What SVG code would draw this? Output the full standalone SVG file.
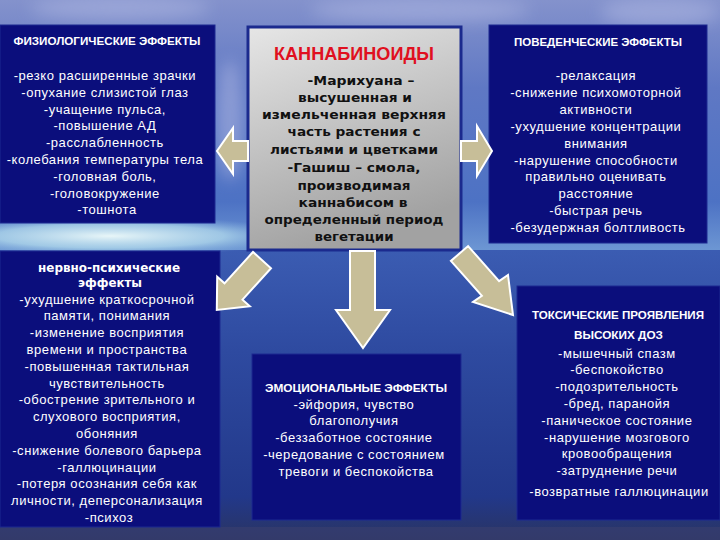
<svg xmlns="http://www.w3.org/2000/svg" width="720" height="540" viewBox="0 0 720 540">
<defs>
<linearGradient id="sky" x1="0" y1="0" x2="0" y2="1">
<stop offset="0" stop-color="#8492cc"/>
<stop offset="0.35" stop-color="#5f78c4"/>
<stop offset="0.8" stop-color="#4d72c4"/>
<stop offset="1" stop-color="#6e98d4"/>
</linearGradient>
<linearGradient id="sea" x1="0" y1="0" x2="0" y2="1">
<stop offset="0" stop-color="#3b5cb2"/>
<stop offset="0.35" stop-color="#2e4aa0"/>
<stop offset="0.85" stop-color="#22388a"/>
<stop offset="1" stop-color="#2a3462"/>
</linearGradient>
<radialGradient id="glow" cx="0.5" cy="0.5" r="0.5">
<stop offset="0" stop-color="#e8f6f8" stop-opacity="1"/>
<stop offset="0.6" stop-color="#b8e0ee" stop-opacity="0.7"/>
<stop offset="1" stop-color="#8ab8e0" stop-opacity="0"/>
</radialGradient>
<linearGradient id="grey" x1="0" y1="0" x2="0.3" y2="1">
<stop offset="0" stop-color="#e6e6e6"/>
<stop offset="0.5" stop-color="#c4c4c4"/>
<stop offset="1" stop-color="#a2a2a2"/>
</linearGradient>
<filter id="blur" x="-50%" y="-50%" width="200%" height="200%"><feGaussianBlur stdDeviation="8"/></filter>
<style>
.box{fill:#0b0e7c;stroke:#1c2890;stroke-width:1}
.hd{font-family:"Liberation Sans",Arial,sans-serif;font-weight:bold;font-size:11.5px;fill:#ffffff;text-anchor:middle}
.tx{font-family:"Liberation Sans",Arial,sans-serif;font-size:13px;letter-spacing:0.55px;fill:#ffffff;text-anchor:middle}
.bk{font-family:"DejaVu Sans",Verdana,sans-serif;font-weight:bold;font-size:11.5px;fill:#111111;text-anchor:middle}
.bw{font-family:"DejaVu Sans",Verdana,sans-serif;font-weight:bold;font-size:11.5px;fill:#ffffff;text-anchor:middle}
.arr{fill:#c7be98;stroke:#ffffff;stroke-width:2;stroke-linejoin:miter}
</style>
</defs>

<!-- background -->
<rect x="0" y="0" width="720" height="252" fill="url(#sky)"/>
<rect x="0" y="250" width="720" height="290" fill="url(#sea)"/>
<ellipse cx="110" cy="236" rx="190" ry="20" fill="url(#glow)"/>
<g filter="url(#blur)" fill="#aab4e0" opacity="0.6">
<ellipse cx="120" cy="8" rx="90" ry="12"/>
<ellipse cx="420" cy="10" rx="110" ry="12"/>
<ellipse cx="660" cy="12" rx="60" ry="14"/>
<ellipse cx="230" cy="120" rx="14" ry="60"/>
</g>
<rect x="0" y="527" width="720" height="13" fill="#3a4070" opacity="0.6"/>

<g id="node-physio">
<rect class="box" x="0" y="25" width="215" height="198"/>
<text class="hd" x="107" y="45" textLength="187" lengthAdjust="spacingAndGlyphs">ФИЗИОЛОГИЧЕСКИЕ ЭФФЕКТЫ</text>
<text class="tx">
<tspan x="107" y="80">-резко расширенные зрачки</tspan>
<tspan x="107" y="96.8">-опухание слизистой глаз</tspan>
<tspan x="107" y="113.6">-учащение пульса,</tspan>
<tspan x="107" y="130.4">-повышение АД</tspan>
<tspan x="107" y="147.2">-расслабленность</tspan>
<tspan x="107" y="164">-колебания температуры тела</tspan>
<tspan x="107" y="180.8">-головная боль,</tspan>
<tspan x="107" y="197.6">-головокружение</tspan>
<tspan x="107" y="214.4">-тошнота</tspan>
</text>
</g>

<g id="node-cannabinoids">
<rect x="248" y="27" width="213" height="223" fill="url(#grey)" stroke="#1b2a8e" stroke-width="3"/>
<text x="354" y="60" font-family="'Liberation Sans',Arial,sans-serif" font-weight="bold" font-size="18" fill="#e01020" text-anchor="middle" textLength="160" lengthAdjust="spacingAndGlyphs">КАННАБИНОИДЫ</text>
<text class="bk" x="361" y="84.5" textLength="107" lengthAdjust="spacingAndGlyphs">-Марихуана –</text>
<text class="bk" x="355" y="101.5" textLength="114" lengthAdjust="spacingAndGlyphs">высушенная и</text>
<text class="bk" x="354" y="118.5" textLength="184" lengthAdjust="spacingAndGlyphs">измельченная верхняя</text>
<text class="bk" x="354" y="135.5" textLength="133" lengthAdjust="spacingAndGlyphs">часть растения с</text>
<text class="bk" x="354" y="153.5" textLength="168" lengthAdjust="spacingAndGlyphs">листьями и цветками</text>
<text class="bk" x="354" y="172" textLength="133" lengthAdjust="spacingAndGlyphs">-Гашиш – смола,</text>
<text class="bk" x="354" y="190" textLength="113" lengthAdjust="spacingAndGlyphs">производимая</text>
<text class="bk" x="353" y="207" textLength="109" lengthAdjust="spacingAndGlyphs">каннабисом в</text>
<text class="bk" x="354" y="223.5" textLength="179" lengthAdjust="spacingAndGlyphs">определенный период</text>
<text class="bk" x="354" y="240.5" textLength="79" lengthAdjust="spacingAndGlyphs">вегетации</text>
</g>

<g id="node-behavior">
<rect class="box" x="489" y="25" width="218" height="218"/>
<text class="hd" x="598" y="45.5" textLength="168" lengthAdjust="spacingAndGlyphs">ПОВЕДЕНЧЕСКИЕ ЭФФЕКТЫ</text>
<text class="tx">
<tspan x="598" y="80">-релаксация</tspan>
<tspan x="598" y="96.9">-снижение психомоторной</tspan>
<tspan x="598" y="113.8">активности</tspan>
<tspan x="598" y="130.7">-ухудшение концентрации</tspan>
<tspan x="598" y="147.6">внимания</tspan>
<tspan x="598" y="164.5">-нарушение способности</tspan>
<tspan x="598" y="181.4">правильно оценивать</tspan>
<tspan x="598" y="198.3">расстояние</tspan>
<tspan x="598" y="215.2">-быстрая речь</tspan>
<tspan x="598" y="232.1">-безудержная болтливость</tspan>
</text>
</g>

<g id="node-neuro">
<rect class="box" x="0" y="251" width="220" height="276"/>
<text class="bw" x="109" y="271.5" textLength="142" lengthAdjust="spacingAndGlyphs">нервно-психические</text>
<text class="bw" x="110" y="287" textLength="64" lengthAdjust="spacingAndGlyphs">эффекты</text>
<text class="tx">
<tspan x="109" y="303.5">-ухудшение краткосрочной</tspan>
<tspan x="109" y="320.3">памяти, понимания</tspan>
<tspan x="109" y="337.1">-изменение восприятия</tspan>
<tspan x="109" y="353.9">времени и пространства</tspan>
<tspan x="109" y="370.7">-повышенная тактильная</tspan>
<tspan x="109" y="387.5">чувствительность</tspan>
<tspan x="109" y="404.3">-обострение зрительного и</tspan>
<tspan x="109" y="421.1">слухового восприятия,</tspan>
<tspan x="109" y="437.9">обоняния</tspan>
<tspan x="109" y="454.7">-снижение болевого барьера</tspan>
<tspan x="109" y="471.5">-галлюцинации</tspan>
<tspan x="109" y="488.3">-потеря осознания себя как</tspan>
<tspan x="109" y="505.1">личности, деперсонализация</tspan>
<tspan x="109" y="521.9">-психоз</tspan>
</text>
</g>

<g id="node-emotional">
<rect class="box" x="252" y="354" width="209" height="166"/>
<text class="hd" x="356" y="391.5" textLength="182" lengthAdjust="spacingAndGlyphs">ЭМОЦИОНАЛЬНЫЕ ЭФФЕКТЫ</text>
<text class="tx">
<tspan x="356" y="408.5">-эйфория, чувство</tspan>
<tspan x="356" y="425.3">благополучия</tspan>
<tspan x="356" y="442.1">-беззаботное состояние</tspan>
<tspan x="356" y="458.9">-чередование с состоянием</tspan>
<tspan x="356" y="475.7">тревоги и беспокойства</tspan>
</text>
</g>

<g id="node-toxic">
<rect class="box" x="517" y="286" width="203" height="234"/>
<text class="hd" x="618" y="318.5" textLength="172" lengthAdjust="spacingAndGlyphs">ТОКСИЧЕСКИЕ ПРОЯВЛЕНИЯ</text>
<text class="hd" x="618.5" y="338.5" textLength="89" lengthAdjust="spacingAndGlyphs">ВЫСОКИХ ДОЗ</text>
<text class="tx">
<tspan x="619" y="357.5">-мышечный спазм</tspan>
<tspan x="619" y="374.3">-беспокойство</tspan>
<tspan x="619" y="391.1">-подозрительность</tspan>
<tspan x="619" y="407.9">-бред, паранойя</tspan>
<tspan x="619" y="424.7">-паническое состояние</tspan>
<tspan x="619" y="441.5">-нарушение мозгового</tspan>
<tspan x="619" y="458.3">кровообращения</tspan>
<tspan x="619" y="475.1">-затруднение речи</tspan>
<tspan x="619" y="495.5">-возвратные галлюцинации</tspan>
</text>
</g>

<g id="connectors">
<polygon class="arr" points="248,141 233,141 233,128 217,151 233,174 233,161 248,161"/>
<polygon class="arr" points="461,141 477,141 477,126 492,151 477,176 477,161 461,161"/>
<polygon class="arr" points="350,251 375,251 375,310 390,310 363,348 336,310 350,310"/>
<polygon class="arr" points="253,252 224.5,283.3 217.2,276.8 216.8,310 249.8,306.2 242.5,299.7 271,268.2"/>
<polygon class="arr" points="468.1,246.1 499.1,281.1 508,275 513,315 473,302 481.9,295.9 450.9,260.9"/>
</g>
</svg>
